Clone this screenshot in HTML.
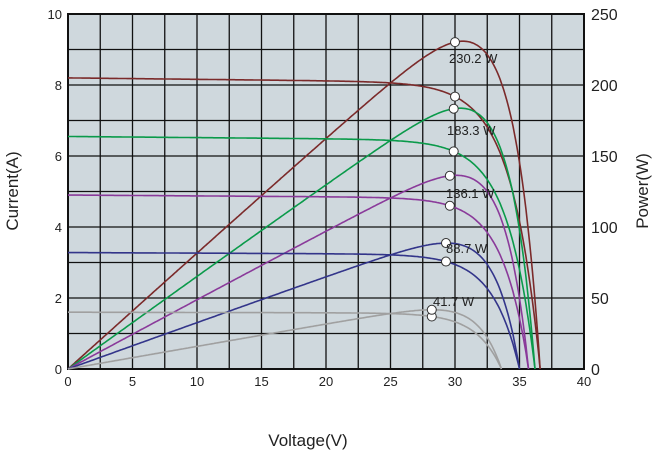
<!DOCTYPE html>
<html><head><meta charset="utf-8"><style>
body{margin:0;background:#fff;width:657px;height:455px;overflow:hidden}
text{font-family:"Liberation Sans",sans-serif;fill:#222}
</style></head><body>
<svg id="s" width="657" height="455" xmlns="http://www.w3.org/2000/svg"></svg>
<script>
const s=document.getElementById('s');
const X0=68,X1=584,Y0=369,Y1=14;
const xv=v=>X0+v*(X1-X0)/40, yi=i=>Y0-i*(Y0-Y1)/10, yp=p=>Y0-p*(Y0-Y1)/250;
let h=`<rect x="${X0}" y="${Y1}" width="${X1-X0}" height="${Y0-Y1}" fill="#cfd8dd"/>`;
for(let k=1;k<16;k++){const x=xv(k*2.5);h+=`<line x1="${x}" y1="${Y1}" x2="${x}" y2="${Y0}" stroke="#111" stroke-width="1.3"/>`;}
for(let k=1;k<10;k++){const y=yi(k);h+=`<line x1="${X0}" y1="${y}" x2="${X1}" y2="${y}" stroke="#111" stroke-width="1.3"/>`;}
h+=`<rect x="${X0}" y="${Y1}" width="${X1-X0}" height="${Y0-Y1}" fill="none" stroke="#111" stroke-width="2"/>`;
for(let k=0;k<=8;k++){h+=`<text x="${xv(k*5)}" y="386" font-size="13" text-anchor="middle">${k*5}</text>`;}
for(let k=0;k<=5;k++){h+=`<text x="62" y="${yi(k*2)+5}" font-size="13" text-anchor="end">${k*2}</text>`;}
for(let k=0;k<=5;k++){h+=`<text x="591" y="${yp(k*50)+6}" font-size="16">${k*50}</text>`;}
h+=`<text x="308" y="446" font-size="17" text-anchor="middle">Voltage(V)</text>`;
h+=`<text transform="translate(18,191) rotate(-90)" font-size="17" text-anchor="middle">Current(A)</text>`;
h+=`<text transform="translate(648,191) rotate(-90)" font-size="17" text-anchor="middle">Power(W)</text>`;
const C=[
 {c:"#7b2a2a",isc:8.2,voc:36.6,vmp:30.0,pmax:230.2,l:"230.2 W",lx:449,ly:63},
 {c:"#0a9a4a",isc:6.55,voc:36.2,vmp:29.9,pmax:183.3,l:"183.3 W",lx:447,ly:135},
 {c:"#8a3a9a",isc:4.9,voc:35.7,vmp:29.6,pmax:136.1,l:"136.1 W",lx:446,ly:198},
 {c:"#33358a",isc:3.28,voc:35.0,vmp:29.3,pmax:88.7,l:"88.7 W",lx:446,ly:253},
 {c:"#a0a0a0",isc:1.6,voc:33.6,vmp:28.2,pmax:41.7,l:"41.7 W",lx:433,ly:306}];
let marks="",labels="";
C.forEach(o=>{
 const slope=0.004*o.isc/8.2;
 const imp=o.pmax/o.vmp;
 // solve a: imp = (isc - slope*vmp)*(1-exp((vmp-voc)/a))
 const base=o.isc-slope*o.vmp;
 const a=(o.voc-o.vmp)/(-Math.log(1-imp/base));
 const I=v=>Math.max(0,(o.isc-slope*v)*(1-Math.exp((v-o.voc)/a)));
 let pi="",pp="";
 for(let v=0;v<=o.voc+0.001;v+=0.1){
  const i=I(v);pi+=(pi?"L":"M")+xv(v).toFixed(1)+","+yi(i).toFixed(1);
  pp+=(pp?"L":"M")+xv(v).toFixed(1)+","+yp(v*i).toFixed(1);
 }
 pi+="L"+xv(o.voc).toFixed(1)+","+Y0;pp+="L"+xv(o.voc).toFixed(1)+","+Y0;
 h+=`<path d="${pi}" fill="none" stroke="${o.c}" stroke-width="1.6"/><path d="${pp}" fill="none" stroke="${o.c}" stroke-width="1.6"/>`;
 marks+=`<circle cx="${xv(o.vmp)}" cy="${yi(imp)}" r="4.5" fill="#fff" stroke="#333"/><circle cx="${xv(o.vmp)}" cy="${yp(o.pmax)}" r="4.5" fill="#fff" stroke="#333"/>`;
 labels+=`<text x="${o.lx}" y="${o.ly}" font-size="13">${o.l}</text>`;
});
s.innerHTML=h+marks+labels;
</script>
</body></html>
